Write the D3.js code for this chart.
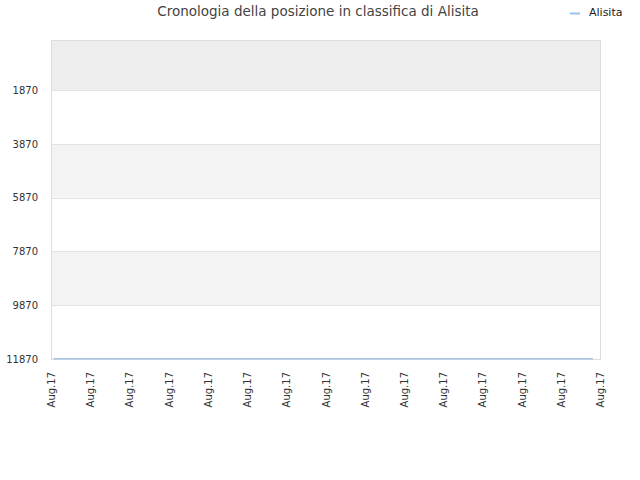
<!doctype html>
<html lang="en">
<head>
  <meta charset="utf-8">
  <script src="https://d3js.org/d3.v7.min.js"></script>
  <style>
    body { margin: 0; background: #fff; }
    text { font-family: "DejaVu Sans", sans-serif; }
  </style>
</head>
<body>
  <script>
    // data
    var seriesName = "Alisita";
    var yTicks = [1870, 3870, 5870, 7870, 9870, 11870];
    var tickDates = d3.timeDays(new Date(2017, 7, 1), new Date(2017, 7, 16));
    var rankDates = [new Date(2017, 7, 1, 1, 30), new Date(2017, 7, 4), new Date(2017, 7, 8),
                     new Date(2017, 7, 11), new Date(2017, 7, 14, 19, 40)];
    var rankValues = [11860, 11860, 11860, 11860, 11860];

    var width = 640, height = 480;
    var margin = {top: 40, right: 40, bottom: 121, left: 51};
    var w = width - margin.left - margin.right,
        h = height - margin.top - margin.bottom;

    var svg = d3.select("body").append("svg")
        .attr("width", width)
        .attr("height", height);

    var x = d3.scaleTime()
        .domain([tickDates[0], tickDates[tickDates.length - 1]])
        .range([0, w]);
    var y = d3.scaleLinear()
        .domain([1, 11870])
        .range([0, h]);

    var g = svg.append("g")
        .attr("transform", "translate(" + margin.left + "," + margin.top + ")");

    // alternating bands
    var bandEdges = [1].concat(yTicks);
    var bandFill = ["#eeeeee", "#ffffff", "#f3f3f3", "#ffffff", "#f3f3f3", "#ffffff"];
    g.selectAll("rect.band")
        .data(d3.pairs(bandEdges))
      .enter().append("rect")
        .attr("class", "band")
        .attr("x", 0)
        .attr("width", w)
        .attr("y", function(d) { return y(d[0]); })
        .attr("height", function(d) { return y(d[1]) - y(d[0]); })
        .style("fill", function(d, i) { return bandFill[i]; });

    // grid lines
    g.selectAll("line.grid")
        .data(yTicks)
      .enter().append("line")
        .attr("x1", 0).attr("x2", w)
        .attr("y1", function(d) { return Math.round(y(d)) + 0.5; })
        .attr("y2", function(d) { return Math.round(y(d)) + 0.5; })
        .style("stroke", "#e2e2e2");

    // frame
    g.append("rect")
        .attr("x", 0.5).attr("y", 0.5)
        .attr("width", w).attr("height", h)
        .style("fill", "none")
        .style("stroke", "#dddddd");

    // y labels
    var yAxis = g.append("g")
        .call(d3.axisLeft(y).tickValues(yTicks).tickSize(0).tickPadding(13).tickFormat(d3.format("d")));
    yAxis.select(".domain").remove();
    yAxis.selectAll("text")
        .style("font-size", "10px")
        .style("fill", "#333");

    // x labels
    var xAxis = g.append("g")
        .attr("transform", "translate(0," + h + ")")
        .call(d3.axisBottom(x).tickValues(tickDates).tickSize(0).tickFormat(d3.timeFormat("%b.%y")));
    xAxis.select(".domain").remove();
    xAxis.selectAll("text")
        .style("font-size", "10px")
        .style("fill", "#333")
        .style("text-anchor", "end")
        .attr("transform", "rotate(-90)")
        .attr("x", -13)
        .attr("y", 0)
        .attr("dy", "0.35em");

    // rank line
    var line = d3.line()
        .x(function(d, i) { return x(rankDates[i]); })
        .y(function(d) { return y(d); });
    g.append("path")
        .datum(rankValues)
        .attr("d", line)
        .style("fill", "none")
        .style("stroke", "#a7c7e7")
        .style("stroke-width", 1.5);

    // title
    svg.append("text")
        .attr("x", 318).attr("y", 16)
        .attr("text-anchor", "middle")
        .style("font-size", "13.5px")
        .style("fill", "#444")
        .text("Cronologia della posizione in classifica di " + seriesName);

    // legend
    svg.append("line")
        .attr("x1", 570).attr("x2", 580)
        .attr("y1", 13.5).attr("y2", 13.5)
        .style("stroke", "#99c2ee")
        .style("stroke-width", 2);
    svg.append("text")
        .attr("x", 589).attr("y", 16)
        .style("font-size", "11px")
        .style("fill", "#222")
        .text(seriesName);
  </script>
</body>
</html>
